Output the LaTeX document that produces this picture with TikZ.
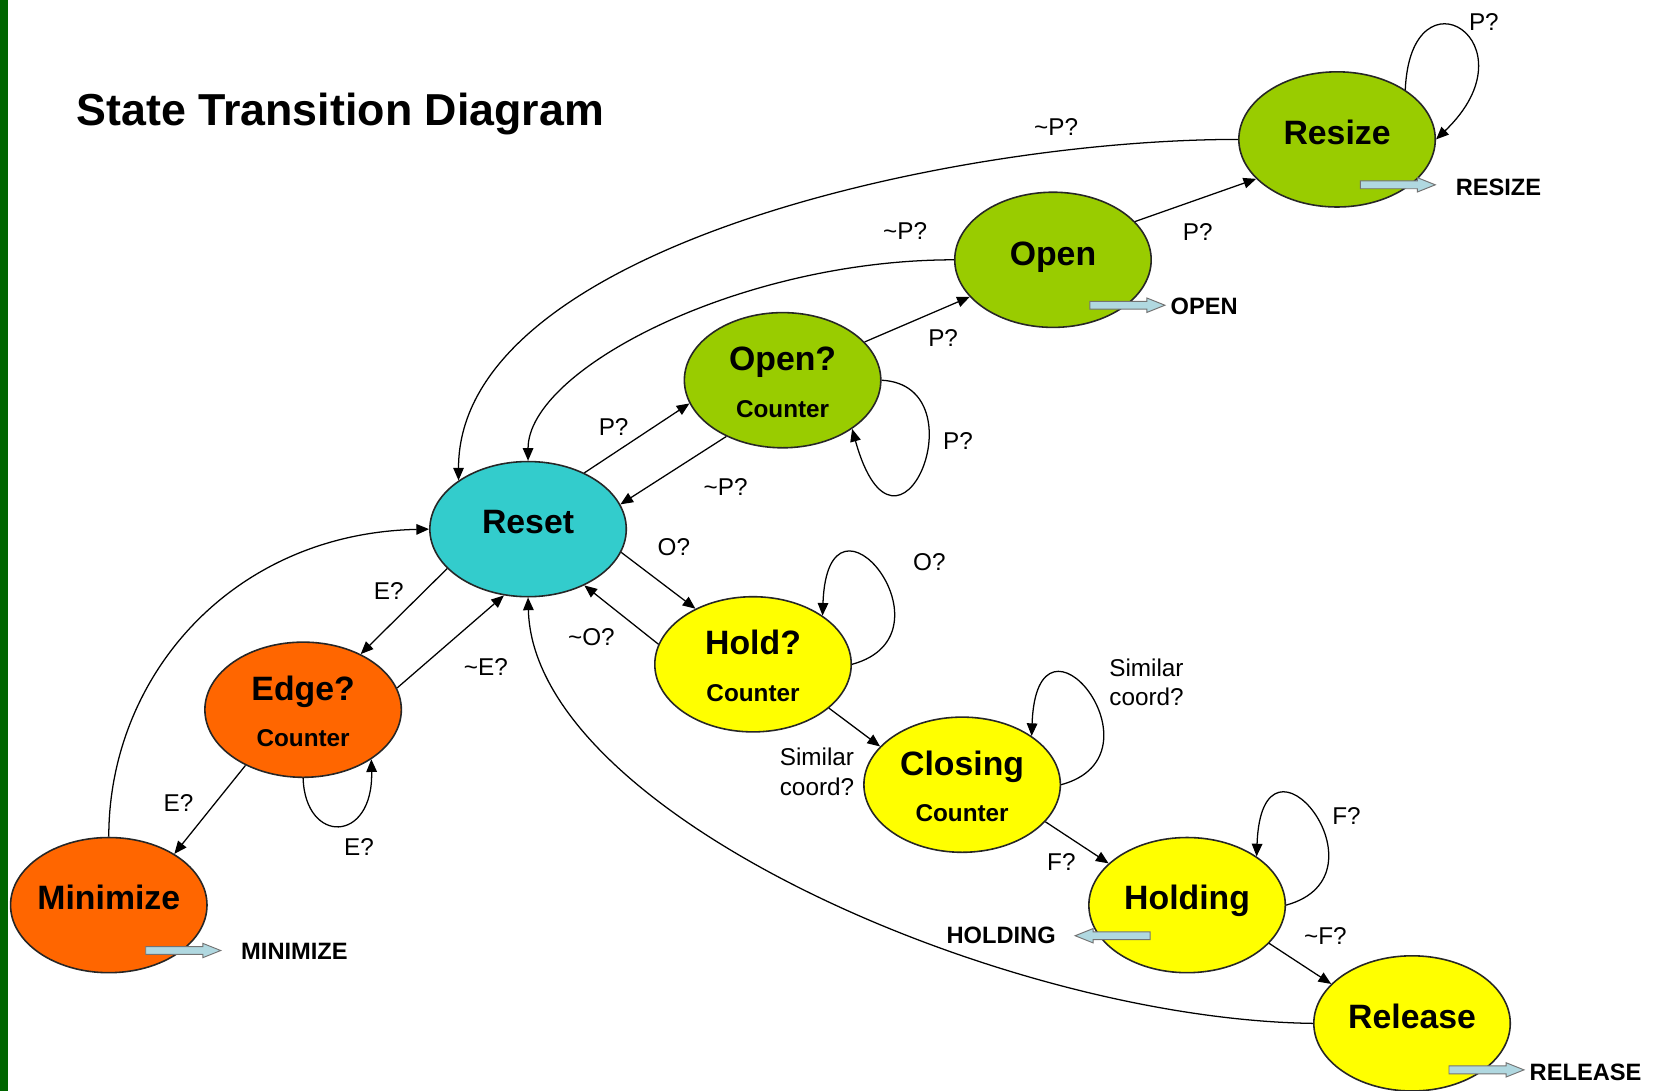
\documentclass[tikz,border=0pt]{standalone}
\usepackage{fontspec}
\setmainfont{Liberation Sans}
\usetikzlibrary{shapes.geometric,arrows.meta}
\definecolor{cBar}{RGB}{0,102,0}
\definecolor{cLime}{RGB}{153,204,0}
\definecolor{cTeal}{RGB}{51,204,204}
\definecolor{cYel}{RGB}{255,255,0}
\definecolor{cOrg}{RGB}{255,102,0}
\definecolor{cArrow}{RGB}{176,216,224}
\newcommand\blkR[3]{%
  \draw[blk] (#1,#3-3.7) -- (#2-17,#3-3.7) -- (#2-17,#3-6.8) -- (#2,#3) -- (#2-17,#3+6.8) -- (#2-17,#3+3.7) -- (#1,#3+3.7) -- cycle;}
\newcommand\blkL[3]{%
  \draw[blk] (#1,#3-3.7) -- (#2+17,#3-3.7) -- (#2+17,#3-6.8) -- (#2,#3) -- (#2+17,#3+6.8) -- (#2+17,#3+3.7) -- (#1,#3+3.7) -- cycle;}
\begin{document}
\begin{tikzpicture}[x=0.5pt,y=-0.5pt,
  state/.style={ellipse, draw=black!85, line width=0.75pt, minimum width=93pt, minimum height=64pt, inner sep=0pt},
  nm/.style={font=\fontsize{16}{18}\selectfont\bfseries, anchor=base, inner sep=0pt},
  ct/.style={font=\fontsize{11.5}{13}\selectfont\bfseries, anchor=base, inner sep=0pt},
  lb/.style={font=\fontsize{11.5}{14}\selectfont, inner sep=0pt, align=left},
  outlb/.style={font=\fontsize{11.2}{13}\selectfont\bfseries, inner sep=0pt},
  tr/.style={line width=0.6pt, -{Triangle[length=6pt,width=5pt]}},
  blk/.style={fill=cArrow, draw=black!55, line width=0.45pt, line join=miter}]
\fill[white] (0,0) rectangle (1568,1033);
\useasboundingbox (0,0) rectangle (1568,1033);
\fill[cBar] (0,0) rectangle (7.6,1033);

\node[font=\fontsize{21.2}{24}\selectfont\bfseries, anchor=base west, inner sep=0pt] (title) at (72,118.4) {State Transition Diagram};

% states
\node[state, fill=cLime] (resize) at (1266,132) {};
\node[state, fill=cLime] (open) at (997,246) {};
\node[state, fill=cLime] (openq) at (741,360) {};
\node[state, fill=cTeal] (reset) at (500,501) {};
\node[state, fill=cYel] (holdq) at (713,629) {};
\node[state, fill=cOrg] (edgeq) at (287,672) {};
\node[state, fill=cYel] (closing) at (911,743) {};
\node[state, fill=cYel] (holding) at (1124,857) {};
\node[state, fill=cOrg] (minimize) at (103,857) {};
\node[state, fill=cYel] (release) at (1337,969) {};

% state texts
\node[nm] (resize-t) at (1266,136.5) {Resize};
\node[nm] (open-t) at (997,251) {Open};
\node[nm] (openq-t) at (741,351) {Open?};
\node[ct] (openq-c) at (741,395) {Counter};
\node[nm] (reset-t) at (500,505.5) {Reset};
\node[nm] (holdq-t) at (713,620) {Hold?};
\node[ct] (holdq-c) at (713,664) {Counter};
\node[nm] (edgeq-t) at (287,663) {Edge?};
\node[ct] (edgeq-c) at (287,707) {Counter};
\node[nm] (closing-t) at (911,734) {Closing};
\node[ct] (closing-c) at (911,778) {Counter};
\node[nm] (holding-t) at (1124,861.5) {Holding};
\node[nm] (minimize-t) at (103,861.5) {Minimize};
\node[nm] (release-t) at (1337,973.5) {Release};

% transitions
\draw[tr] (reset.45) -- (openq.194);
\draw[tr] (openq.225) -- (reset.15);
\draw[tr] (openq.0) .. controls +(96,5) and +(43,154) .. (openq.325);
\draw[tr] (openq.25) -- (open.204);
\draw[tr] (open.25) -- (resize.206);
\draw[tr] (resize.36) .. controls +(5,-120) and +(96,-92) .. (resize.0);
\draw[tr] (resize.180) .. controls (900,132) and (434,235) .. (reset.145);
\draw[tr] (open.180) .. controls (700,246) and (500,350) .. (reset.90);
\draw[tr] (reset.346) -- (holdq.136);
\draw[tr] (holdq.168) -- (reset.315);
\draw[tr] (holdq.0) .. controls +(103,-28) and +(5,-140) .. (holdq.35);
\draw[tr] (holdq.330) -- (closing.155);
\draw[tr] (closing.0) .. controls +(103,-28) and +(5,-140) .. (closing.35);
\draw[tr] (closing.336) -- (holding.152);
\draw[tr] (holding.0) .. controls +(103,-28) and +(5,-140) .. (holding.35);
\draw[tr] (holding.335) -- (release.154);
\draw[tr] (release.180) .. controls (950,965) and (505,770) .. (reset.270);
\draw[tr] (reset.206) -- (edgeq.44);
\draw[tr] (edgeq.13) -- (reset.250);
\draw[tr] (edgeq.270) .. controls +(2,63) and +(2,80) .. (edgeq.324);
\draw[tr] (edgeq.224) -- (minimize.38);
\draw[tr] (minimize.90) .. controls (103,640) and (220,505) .. (reset.180);

% transition labels
\node[lb] (l1) at (581,404) {P?};
\node[lb] (l2) at (687,461) {\textasciitilde P?};
\node[lb] (l3) at (907,418) {P?};
\node[lb] (l4) at (893,320) {P?};
\node[lb] (l5) at (1134,220) {P?};
\node[lb] (l6) at (1405,21) {P?};
\node[lb] (l7) at (1000,120) {\textasciitilde P?};
\node[lb] (l8) at (857,219) {\textasciitilde P?};
\node[lb] (l9) at (638,518) {O?};
\node[lb] (l10) at (560,603) {\textasciitilde O?};
\node[lb] (l11) at (880,532) {O?};
\node[lb, anchor=west] (l12) at (738,731) {Similar\\coord?};
\node[lb, anchor=west] (l13) at (1050,646) {Similar\\coord?};
\node[lb] (l14) at (1005,816) {F?};
\node[lb] (l15) at (1275,773) {F?};
\node[lb] (l16) at (1255,886) {\textasciitilde F?};
\node[lb] (l17) at (368,560) {E?};
\node[lb] (l18) at (460,632) {\textasciitilde E?};
\node[lb] (l19) at (340,802) {E?};
\node[lb] (l20) at (169,760) {E?};

% outputs
\blkR{1288}{1359}{175}
\node[outlb, anchor=west] (o1) at (1378,177) {RESIZE};
\blkR{1032}{1103}{289}
\node[outlb, anchor=west] (o2) at (1108,290) {OPEN};
\blkR{138}{209}{900}
\node[outlb, anchor=west] (o3) at (228,901) {MINIMIZE};
\blkL{1089}{1018}{886}
\node[outlb, anchor=east] (o4) at (1000,886) {HOLDING};
\blkR{1372}{1443}{1013}
\node[outlb, anchor=west] (o5) at (1448,1015) {RELEASE};
\end{tikzpicture}
\end{document}
